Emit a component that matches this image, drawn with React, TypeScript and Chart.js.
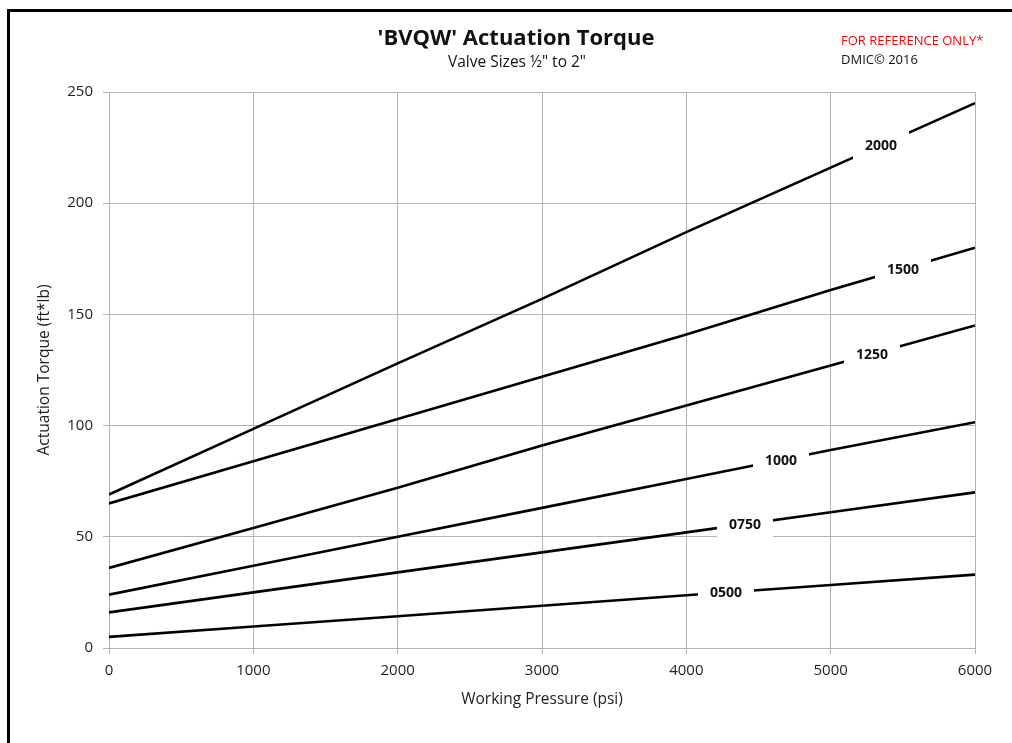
import React, { useEffect, useRef } from "react";
import { Chart, registerables } from "chart.js";

Chart.register(...registerables);

const pressure = [0, 1000, 2000, 3000, 4000, 5000, 6000];
const seriesNames = ["2000", "1500", "1250", "1000", "0750", "0500"];
const torque2000 = [69, 98.5, 128, 157, 187, 216, 245];
const torque1500 = [65, 84, 103, 122, 141, 161, 180];
const torque1250 = [36, 54, 72, 91, 109, 127, 145];
const torque1000 = [24, 37, 50, 63, 76, 89, 101.5];
const torque0750 = [16, 25, 34, 43, 52, 61, 70];
const torque0500 = [5, 9.7, 14.3, 19, 23.7, 28.3, 33];
const labelPressure = [5349, 5501, 5286, 4656, 4406, 4275];

const titleText = "'BVQW' Actuation Torque";
const subtitleText = 'Valve Sizes ½" to 2"';
const noteText = "FOR REFERENCE ONLY*";
const copyrightText = "DMIC© 2016";
const xTitle = "Working Pressure (psi)";
const yTitle = "Actuation Torque (ft*lb)";

const allSeries = [torque2000, torque1500, torque1250, torque1000, torque0750, torque0500];

const FONT = "'Open Sans', 'Noto Sans', sans-serif";

function interp(xs: number[], ys: number[], x: number) {
  for (let i = 0; i < xs.length - 1; i++) {
    if (x >= xs[i] && x <= xs[i + 1]) {
      const t = (x - xs[i]) / (xs[i + 1] - xs[i]);
      return ys[i] + t * (ys[i + 1] - ys[i]);
    }
  }
  return ys[ys.length - 1];
}

const decorPlugin = {
  id: "decor",
  afterDatasetsDraw(chart: any) {
    const ctx = chart.ctx;
    const xs = chart.scales.x;
    const ys = chart.scales.y;
    ctx.save();
    ctx.font = `bold 14px ${FONT}`;
    ctx.textAlign = "center";
    ctx.textBaseline = "middle";
    allSeries.forEach((s, i) => {
      const p = labelPressure[i];
      const v = interp(pressure, s, p);
      const px = xs.getPixelForValue(p);
      const py = ys.getPixelForValue(v);
      ctx.fillStyle = "#ffffff";
      ctx.fillRect(px - 28, py - 15, 56, 30);
      ctx.fillStyle = "#111";
      ctx.fillText(seriesNames[i], px, py + 1);
    });
    ctx.restore();
  },
  afterDraw(chart: any) {
    const ctx = chart.ctx;
    const area = chart.chartArea;
    ctx.save();
    // frame
    ctx.fillStyle = "#000";
    ctx.fillRect(7, 9, 1005, 3);
    ctx.fillRect(7, 9, 3, 734);
    // title
    ctx.textAlign = "center";
    ctx.textBaseline = "middle";
    ctx.fillStyle = "#111";
    ctx.font = `bold 22px ${FONT}`;
    ctx.fillText(titleText, 516, 39);
    ctx.font = `15.5px ${FONT}`;
    ctx.fillText(subtitleText, 517, 63);
    // notes
    ctx.textAlign = "left";
    ctx.font = `13px ${FONT}`;
    ctx.fillStyle = "#ff0000";
    ctx.fillText(noteText, 841, 41);
    ctx.fillStyle = "#111";
    ctx.fillText(copyrightText, 841, 60);
    // axis titles
    ctx.textAlign = "center";
    ctx.font = `15.5px ${FONT}`;
    ctx.fillStyle = "#222";
    ctx.fillText(xTitle, (area.left + area.right) / 2, 700);
    ctx.translate(45, (area.top + area.bottom) / 2);
    ctx.rotate(-Math.PI / 2);
    ctx.fillText(yTitle, 0, 0);
    ctx.restore();
  },
};

export default function App() {
  const ref = useRef<HTMLCanvasElement | null>(null);
  useEffect(() => {
    if (!ref.current) return;
    const chart = new Chart(ref.current, {
      type: "line",
      data: {
        datasets: allSeries.map((s, i) => ({
          label: seriesNames[i],
          data: s.map((v, j) => ({ x: pressure[j], y: v })),
          borderColor: "#000",
          borderWidth: 2.6,
          pointRadius: 0,
          tension: 0,
          fill: false,
        })),
      },
      options: {
        responsive: false,
        animation: false,
        layout: { padding: { top: 92, left: 20, right: 37, bottom: 40 } },
        plugins: {
          legend: { display: false },
          tooltip: { enabled: false },
          title: { display: false },
        },
        scales: {
          x: {
            type: "linear",
            min: 0,
            max: 6000,
            afterFit: (s: any) => {
              s.height = 55;
            },
            ticks: {
              stepSize: 1000,
              padding: 8,
              color: "#222",
              font: { family: FONT, size: 15 },
              callback: (v: any) => String(v),
            },
            grid: { color: "#b3b3b3", lineWidth: 1, tickLength: 6 },
            border: { color: "#b3b3b3" },
          },
          y: {
            type: "linear",
            min: 0,
            max: 250,
            afterFit: (s: any) => {
              s.width = 89;
            },
            ticks: {
              stepSize: 50,
              padding: 10,
              color: "#222",
              font: { family: FONT, size: 15 },
              callback: (v: any) => String(v),
            },
            grid: { color: "#b3b3b3", lineWidth: 1, tickLength: 6 },
            border: { color: "#b3b3b3" },
          },
        },
      },
      plugins: [decorPlugin],
    } as any);
    return () => chart.destroy();
  }, []);
  return (
    <canvas
      ref={ref}
      width={1012}
      height={743}
      style={{ position: "absolute", left: 0, top: 0, width: 1012, height: 743 }}
    />
  );
}
